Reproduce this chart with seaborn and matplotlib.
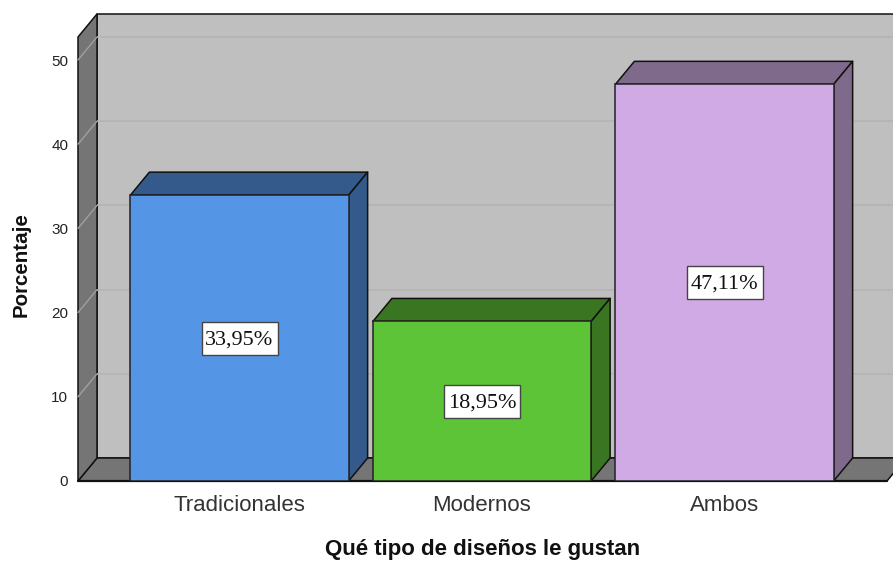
import matplotlib
matplotlib.use("Agg")
import matplotlib.pyplot as plt
from matplotlib.patches import Polygon, Rectangle
import pandas as pd
import seaborn as sns

categories = ["Tradicionales", "Modernos", "Ambos"]
values = [33.95, 18.95, 47.11]
labels = ["33,95%", "18,95%", "47,11%"]
front_colors = ["#5595E6", "#5DC337", "#D0AAE5"]
depth_colors = ["#335A8A", "#3A7521", "#806A8C"]
y_ticks = [0, 10, 20, 30, 40, 50]

W, H = 893, 561
L, R, B, T = 78, 887, 481, 37
DX, DY = 19, 23
PX_PER_CAT = 242.5
PX_PER_UNIT = 8.42

sns.set_theme(style="white")
plt.rcParams["font.family"] = ["Liberation Sans", "DejaVu Sans"]

fig = plt.figure(figsize=(W / 100, H / 100), dpi=100)
ax = fig.add_axes([L / W, 1 - B / H, (R - L) / W, (B - T) / H])

df = pd.DataFrame({"cat": categories, "val": values})
sns.barplot(data=df, x="cat", y="val", hue="cat", palette=front_colors, width=0.9,
            saturation=1, legend=False, dodge=False, ax=ax, zorder=5,
            edgecolor="#222222", linewidth=1.1, err_kws={"linewidth": 0})
bars = list(ax.patches)

x0 = -(239.5 - L) / PX_PER_CAT
x1 = x0 + (R - L) / PX_PER_CAT
y1 = (B - T) / PX_PER_UNIT
dx = DX / PX_PER_CAT
dy = DY / PX_PER_UNIT
ax.set_xlim(x0, x1)
ax.set_ylim(0, y1)


def face(pts, fc, z, ec="#111111", lw=1.1):
    ax.add_patch(Polygon(pts, closed=True, facecolor=fc, edgecolor=ec, linewidth=lw,
                         zorder=z, clip_on=False, joinstyle="round"))


# walls
face([(x0 + dx, dy), (x1 + dx, dy), (x1 + dx, y1 + dy), (x0 + dx, y1 + dy)], "#BFBFBF", 0.5)
face([(x0, 0), (x1, 0), (x1 + dx, dy), (x0 + dx, dy)], "#757575", 0.6)
face([(x0, 0), (x0 + dx, dy), (x0 + dx, y1 + dy), (x0, y1)], "#757575", 0.7)

# gridlines on back wall and side wall
for t in y_ticks[1:]:
    ax.plot([x0 + dx, x1 + dx], [t + dy, t + dy], color="#B4B4B4", lw=1.2, zorder=0.8,
            clip_on=False, solid_capstyle="butt")
    ax.plot([x0, x0 + dx], [t, t + dy], color="#A0A0A0", lw=1.0, zorder=0.8, clip_on=False)

# bar depth faces and value boxes, taken from the bars seaborn drew
box_w = 76 / PX_PER_CAT
box_h = 33 / PX_PER_UNIT
text_drop = 1.5 / PX_PER_UNIT
for bar, lab, dark in zip(bars, labels, depth_colors):
    a = bar.get_x()
    b = a + bar.get_width()
    h = bar.get_height()
    face([(a, h), (b, h), (b + dx, h + dy), (a + dx, h + dy)], dark, 4)
    face([(b, 0), (b + dx, dy), (b + dx, h + dy), (b, h)], dark, 4)
    mid = (a + b) / 2
    ax.add_patch(Rectangle((mid - box_w / 2, h / 2 - box_h / 2), box_w, box_h, facecolor="white",
                           edgecolor="#444444", linewidth=1.0, zorder=6))
    ax.text(mid, h / 2 - text_drop, lab, ha="center", va="center", zorder=7,
            family=["Liberation Serif", "DejaVu Serif"], fontsize=16, color="#111111")

for s in ax.spines.values():
    s.set_visible(False)
ax.plot([x0, x1], [0, 0], color="#111111", lw=1.6, zorder=4.5, clip_on=False)

ax.set_yticks(y_ticks)
ax.set_yticklabels([str(t) for t in y_ticks])
ax.tick_params(axis="y", length=0, pad=7, labelsize=11, labelcolor="#222222")
ax.tick_params(axis="x", length=0, pad=10, labelsize=16, labelcolor="#333333")

ax.set_xlabel("Qué tipo de diseños le gustan", fontsize=16, fontweight="bold",
              color="#111111", labelpad=17)
ax.set_ylabel("Porcentaje", fontsize=14.8, fontweight="bold", color="#111111")
ax.yaxis.set_label_coords((31 - L) / (R - L), (B - 264.5) / (B - T))

fig.savefig("out.png", dpi=100, facecolor="white")
